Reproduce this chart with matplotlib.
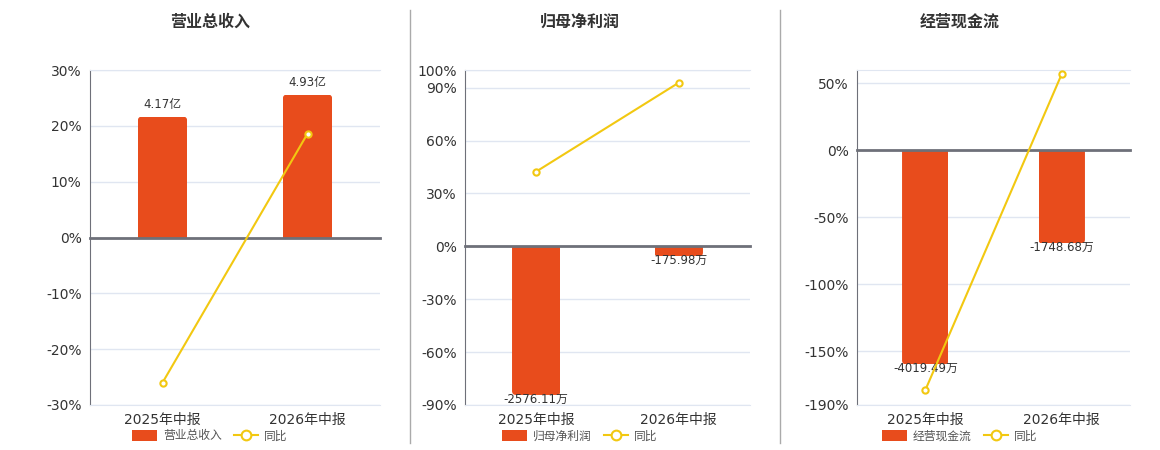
import matplotlib
matplotlib.use('Agg')
import matplotlib.pyplot as plt
from matplotlib.lines import Line2D
from matplotlib.patches import Patch, FancyBboxPatch

plt.rcParams['font.family'] = ['DejaVu Sans', 'Noto Sans CJK SC']

# data
categories = ['2025年中报', '2026年中报']

revenue = [4.17, 4.93]            # 亿
revenue_yoy = [-26.0, 18.6]       # %
profit = [-2576.11, -175.98]      # 万
profit_yoy = [42.4, 92.8]
cash_flow = [-4019.49, -1748.68]  # 万
cash_flow_yoy = [-179.0, 57.0]

BAR_COLOR = '#E84C1C'
LINE_COLOR = '#F2C811'
AXIS_COLOR = '#6E7079'
GRID_COLOR = '#E0E6F1'
TEXT_COLOR = '#333333'

W, H = 1160, 450
fig = plt.figure(figsize=(W / 100, H / 100), dpi=100)


def round_bars(ax, bars, rect, bar_lim, radius_px=4):
    # swap plain bars for ones with rounded outer corners
    x_per_px = len(categories) / (rect[2] * W)
    y_per_px = (bar_lim[1] - bar_lim[0]) / (rect[3] * H)
    r = radius_px * x_per_px
    aspect = y_per_px / x_per_px
    for b in bars:
        x0, w = b.get_x(), b.get_width()
        y0, h = b.get_y(), b.get_height()
        ext = radius_px * 2 * y_per_px
        if h >= 0:
            lo, hi = y0 - ext, y0 + h
        else:
            lo, hi = y0 + h, y0 + ext
        fb = FancyBboxPatch((x0, lo), w, hi - lo,
                            boxstyle=f'round,pad=0,rounding_size={r}',
                            mutation_aspect=aspect, facecolor=BAR_COLOR,
                            edgecolor='none', zorder=1)
        ax.add_patch(fb)
        fb.set_clip_path(b)
        b.set_visible(False)


def draw_panel(rect, title, title_x, values, unit, yoy, pct_lim, pct_ticks, bar_lim):
    ax = fig.add_axes(rect)
    ax2 = ax.twinx()
    ax3 = ax.twinx()
    ax.set_zorder(0)
    ax2.set_zorder(1)
    ax3.set_zorder(2)
    ax2.patch.set_visible(False)
    ax3.patch.set_visible(False)

    x = list(range(len(categories)))

    # percent axis with grid
    ax.set_xlim(-0.5, len(categories) - 0.5)
    ax.set_ylim(*pct_lim)
    ax.set_yticks(pct_ticks)
    ax.set_yticklabels([f'{t}%' for t in pct_ticks], fontsize=10, color=TEXT_COLOR)
    ax.yaxis.grid(True, color=GRID_COLOR, lw=1)
    ax.set_axisbelow(True)
    ax.tick_params(axis='y', length=0, pad=6)
    ax.set_xticks(x)
    ax.set_xticklabels(categories, fontsize=10, color=TEXT_COLOR)
    ax.set_xticks([i - 0.5 for i in range(len(categories) + 1)], minor=True)
    ax.tick_params(axis='x', which='both', length=0, pad=6)
    ax.spines['left'].set_color(AXIS_COLOR)
    ax.spines['right'].set_visible(False)
    ax.spines['top'].set_color(GRID_COLOR)
    ax.spines['bottom'].set_color(GRID_COLOR)

    # bars on hidden axis, zero aligned
    ax2.set_ylim(*bar_lim)
    bars = ax2.bar(x, values, width=0.34, color=BAR_COLOR, zorder=1)
    round_bars(ax2, bars, rect, bar_lim)
    for xi, v in zip(x, values):
        if v >= 0:
            ax2.annotate(f'{v:.2f}{unit}', (xi, v), xytext=(0, 4), textcoords='offset points',
                         ha='center', va='bottom', fontsize=8.5, color=TEXT_COLOR)
        else:
            ax2.annotate(f'{v:.2f}{unit}', (xi, v), xytext=(0, -3), textcoords='offset points',
                         ha='center', va='center', fontsize=8.5, color=TEXT_COLOR)
    ax2.set_yticks([])
    for s in ['left', 'right', 'top']:
        ax2.spines[s].set_visible(False)
    ax2.spines['bottom'].set_position(('data', 0))
    ax2.spines['bottom'].set_color(AXIS_COLOR)
    ax2.spines['bottom'].set_linewidth(2)
    ax2.tick_params(axis='x', which='major', length=0, labelbottom=False)
    ax2.tick_params(axis='x', which='minor', length=5, width=1, color=AXIS_COLOR, direction='out')

    # yoy line
    ax3.set_ylim(*pct_lim)
    ax3.plot(x, yoy, color=LINE_COLOR, lw=1.5, marker='o', markersize=4.5,
             markerfacecolor='white', markeredgecolor=LINE_COLOR, markeredgewidth=1.5)
    ax3.set_yticks([])
    for s in ax3.spines.values():
        s.set_visible(False)
    ax3.tick_params(axis='x', which='both', length=0, labelbottom=False)

    fig.text(title_x / W, 1 - 22 / H, title, ha='center', va='center',
             fontsize=11.5, fontweight='bold', color=TEXT_COLOR)

    handles = [Patch(facecolor=BAR_COLOR, edgecolor='none'),
               Line2D([0], [0], color=LINE_COLOR, lw=1.5, marker='o', markersize=7,
                      markerfacecolor='white', markeredgecolor=LINE_COLOR, markeredgewidth=1.5)]
    fig.legend(handles, [title, '同比'], loc='center', ncol=2, frameon=False,
               bbox_to_anchor=(title_x / W, 1 - 436 / H), fontsize=8.5,
               handlelength=2.1, handleheight=1.0, columnspacing=1.0, handletextpad=0.5,
               labelcolor='#555555')


draw_panel([90 / W, 45 / H, 290 / W, 335 / H], '营业总收入', 210,
           revenue, '亿', revenue_yoy, (-30, 30), [-30, -20, -10, 0, 10, 20, 30], (-5.78, 5.78))
draw_panel([465 / W, 45 / H, 285 / W, 335 / H], '归母净利润', 580,
           profit, '万', profit_yoy, (-90, 100), [-90, -60, -30, 0, 30, 60, 90, 100], (-2750, 3056))
draw_panel([857 / W, 45 / H, 273 / W, 335 / H], '经营现金流', 960,
           cash_flow, '万', cash_flow_yoy, (-190, 60), [-190, -150, -100, -50, 0, 50], (-4782, 1510))

for sx in [410, 780]:
    fig.add_artist(Line2D([sx / W, sx / W], [1 - 10 / H, 1 - 443 / H], color='#AAAAAA', lw=1))

fig.savefig('out.png', dpi=100)
